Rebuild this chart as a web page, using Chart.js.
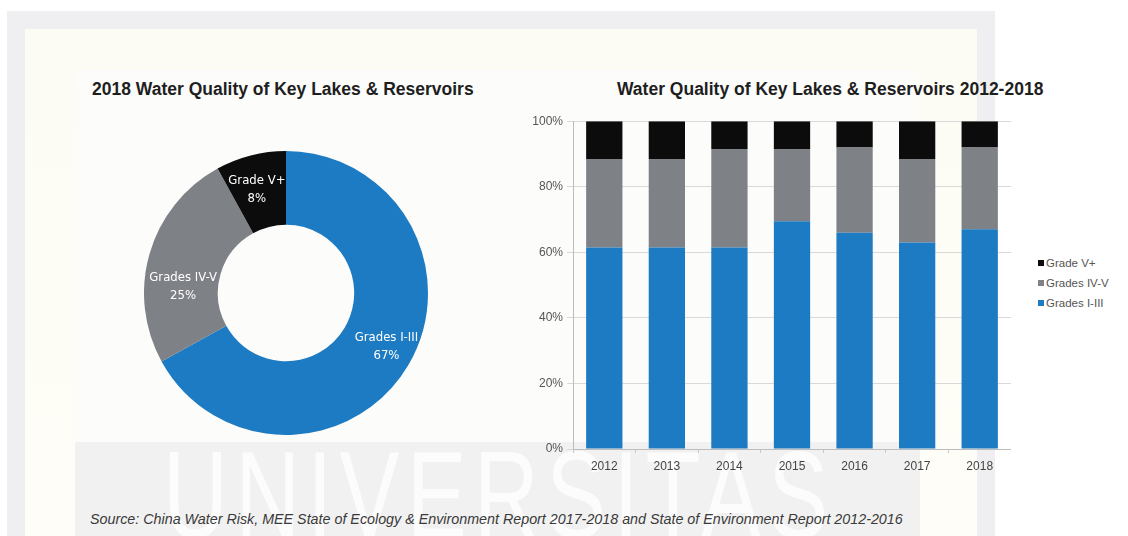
<!DOCTYPE html>
<html>
<head>
<meta charset="utf-8">
<script src="https://cdn.jsdelivr.net/npm/chart.js@4.4.1/dist/chart.umd.min.js"></script>
<style>
  html, body { margin: 0; padding: 0; width: 1128px; height: 536px; overflow: hidden; background: #fff; font-family: "Liberation Sans", Arial, sans-serif; }
  .frame { position: absolute; left: 7px; top: 11px; width: 988px; height: 540px; background: #efeff1; }
  .panel { position: absolute; left: 25px; top: 29px; width: 952px; height: 520px; background: linear-gradient(#fdfcf4, #fefdf7); }
  .sheet { position: absolute; left: 75px; top: 70px; width: 845px; height: 480px; background: #fcfcfb; }
  .band { position: absolute; left: 75px; top: 442px; width: 845px; height: 100px; background: #f1f1f1; }
  .wm { position: absolute; left: 163px; top: 424px; font-size: 124px; color: #fcfcfc; letter-spacing: 10px; transform: scaleX(0.725); transform-origin: left top; white-space: nowrap; }
  .title { position: absolute; top: 79px; font-weight: bold; font-size: 17.5px; color: #1e1e1e; white-space: nowrap; }
  .source { position: absolute; left: 90px; top: 511px; font-style: italic; font-size: 14.3px; color: #3a3a3a; white-space: nowrap; }
  #legend { position: absolute; left: 1038px; top: 255px; font-size: 11.5px; color: #555; white-space: nowrap; }
  #legend div { height: 20px; line-height: 16px; }
  #legend span { display: inline-block; width: 6px; height: 6px; margin-right: 2px; vertical-align: 1px; }
  canvas { position: absolute; }
</style>
</head>
<body>
<div class="frame"></div>
<div class="panel"></div>
<div class="sheet"></div>
<div class="band"></div>
<div class="wm">UNIVERSITAS</div>

<div class="title" style="left:92px">2018 Water Quality of Key Lakes &amp; Reservoirs</div>
<div class="title" style="left:617px">Water Quality of Key Lakes &amp; Reservoirs 2012-2018</div>

<canvas id="donut" width="284" height="284" style="left:144px; top:151px"></canvas>
<canvas id="bars" width="506" height="370" style="left:505px; top:110px"></canvas>
<div id="legend"></div>

<div class="source">Source: China Water Risk, MEE State of Ecology &amp; Environment Report 2017-2018 and State of Environment Report 2012-2016</div>

<script>
// grade groups, best water first
const grades = ["Grades I-III", "Grades IV-V", "Grade V+"];
const gradeColors = ["#1c7bc2", "#7e8186", "#0c0c0c"];

// 2018 split (%)
const share2018 = [67, 25, 8];

// yearly split (%)
const years = ["2012", "2013", "2014", "2015", "2016", "2017", "2018"];
const gradeI_III = [61.5, 61.5, 61.5, 69.5, 66, 63, 67];
const gradeIV_V = [27, 27, 30, 22, 26, 25.5, 25];
const gradeV_plus = [11.5, 11.5, 8.5, 8.5, 8, 11.5, 8];

const yTicks = [0, 20, 40, 60, 80, 100];

// nudge for the text inside each ring segment
const labelShift = [[10, 0], [-2, 23], [-3, -2]];

const donutLabels = {
  id: "donutLabels",
  afterDatasetsDraw(chart) {
    const ctx = chart.ctx;
    const meta = chart.getDatasetMeta(0);
    ctx.save();
    ctx.fillStyle = "#fff";
    ctx.font = '13px "Liberation Sans Narrow", "DejaVu Sans Condensed", sans-serif';
    ctx.textAlign = "center";
    ctx.textBaseline = "middle";
    meta.data.forEach((arc, i) => {
      const p = arc.tooltipPosition();
      const x = p.x + labelShift[i][0];
      const y = p.y + labelShift[i][1];
      ctx.fillText(grades[i], x, y - 9);
      ctx.fillText(share2018[i] + "%", x, y + 9);
    });
    ctx.restore();
  }
};

new Chart(document.getElementById("donut").getContext("2d"), {
  type: "doughnut",
  data: {
    labels: grades,
    datasets: [{
      data: share2018,
      backgroundColor: gradeColors,
      borderWidth: 0,
      hoverOffset: 0
    }]
  },
  options: {
    responsive: false,
    animation: false,
    cutout: "48%",
    plugins: { legend: { display: false }, tooltip: { enabled: false } }
  },
  plugins: [donutLabels]
});

const seriesValues = [gradeI_III, gradeIV_V, gradeV_plus];

const barChart = new Chart(document.getElementById("bars").getContext("2d"), {
  type: "bar",
  data: {
    labels: years,
    datasets: grades.map((g, i) => ({
      label: g,
      data: seriesValues[i],
      backgroundColor: gradeColors[i],
      borderWidth: 0,
      categoryPercentage: 1,
      barPercentage: 0.58
    }))
  },
  options: {
    responsive: false,
    animation: false,
    plugins: { legend: { display: false }, tooltip: { enabled: false } },
    scales: {
      x: {
        stacked: true,
        afterFit: (axis) => { axis.height = 31; },
        grid: { display: true, drawOnChartArea: false, tickLength: 4, color: "#c8c8c8" },
        border: { color: "#bdbdbd" },
        ticks: { color: "#444", font: { size: 12 }, padding: 6 }
      },
      y: {
        stacked: true,
        min: 0,
        max: 100,
        afterFit: (axis) => { axis.width = 68; },
        afterBuildTicks: (axis) => { axis.ticks = yTicks.map(v => ({ value: v })); },
        grid: { color: "#d9d9d9", tickLength: 6 },
        border: { color: "#bdbdbd" },
        ticks: { color: "#555", font: { size: 12 }, padding: 4, callback: (v) => v + "%" }
      }
    }
  }
});

// legend, top entry = top of the stack
const legend = document.getElementById("legend");
barChart.data.datasets.slice().reverse().forEach(ds => {
  const row = document.createElement("div");
  const box = document.createElement("span");
  box.style.background = ds.backgroundColor;
  row.appendChild(box);
  row.appendChild(document.createTextNode(ds.label));
  legend.appendChild(row);
});
</script>
</body>
</html>
